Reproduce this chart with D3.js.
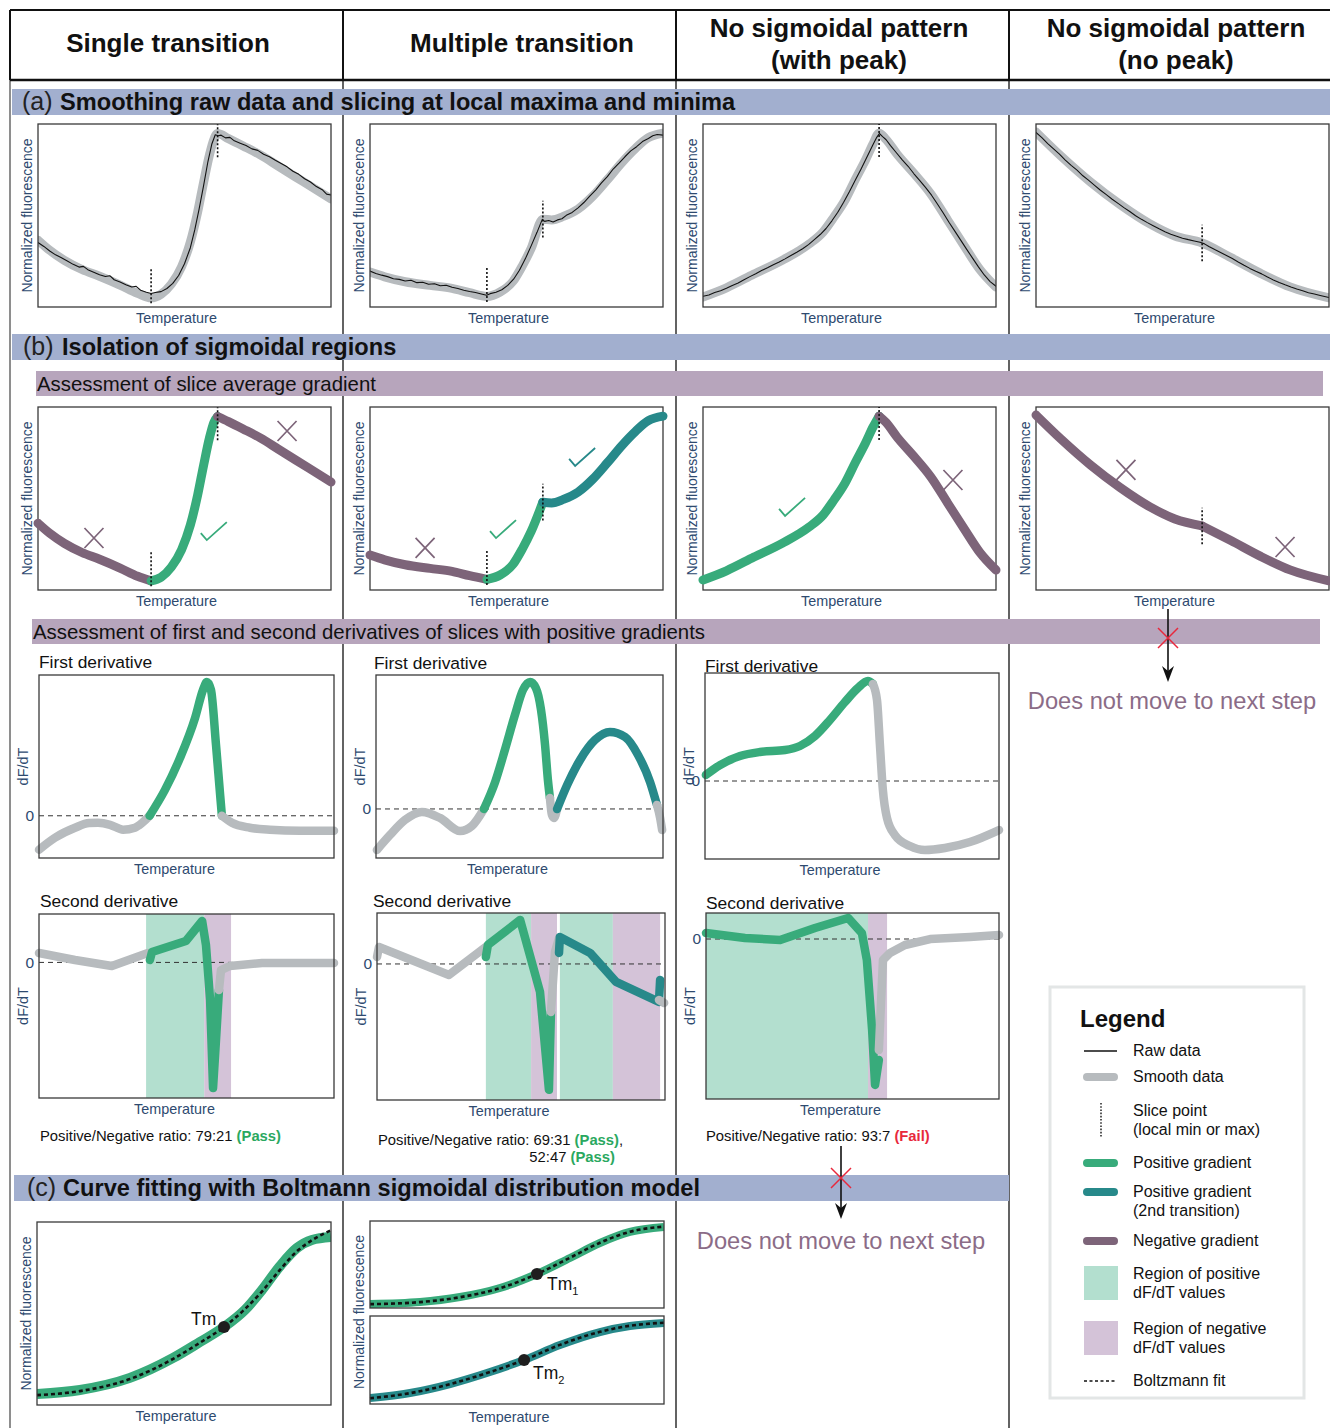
<!DOCTYPE html>
<html>
<head>
<meta charset="utf-8">
<script src="https://cdn.jsdelivr.net/npm/d3@7"></script>
<style>
  body { margin: 0; background: #fff; }
  svg { display: block; }
  text { font-family: "Liberation Sans", Arial, sans-serif; }
</style>
</head>
<body>
<svg id="fig" width="1330" height="1428"></svg>
<script>
// ---------------- text ----------------
const columnTitles = [["Single transition"], ["Multiple transition"],
  ["No sigmoidal pattern", "(with peak)"], ["No sigmoidal pattern", "(no peak)"]];
const sectionTitles = [["(a)", "Smoothing raw data and slicing at local maxima and minima"],
  ["(b)", "Isolation of sigmoidal regions"],
  ["(c)", "Curve fitting with Boltmann sigmoidal distribution model"]];
const stepTitles = ["Assessment of slice average gradient",
  "Assessment of first and second derivatives of slices with positive gradients"];
const stopNote = "Does not move to next step";

// ---------------- (a)/(b) melt curves: [temperature, fluorescence] ----------------
const smoothSingle = [[0,36.5],[4,31],[9,25.5],[15,20.5],[21,16.8],[28,12],[34,7.5],[38.6,5],[42,7],[45.5,12.5],[49,22],[52,35.5],[54.5,52],[56.5,68],[58.5,83],[60,91.5],[61.3,94.8],[65,92],[70,88],[76,83],[82,77],[88,71],[94,65],[100,59]];
const rawSingle = [[0,35.2],[2,33.1],[4,30.6],[6,28.5],[8,26.9],[10,25.1],[12,23.3],[14,21.8],[15.5,22.2],[17,20.4],[19,19],[21,17.6],[23,16.7],[24.5,17.1],[26,14.9],[28,13.6],[30,12.2],[32,10.9],[33.5,11.3],[35,9.2],[37,8.1],[38.6,7.4],[40,7.9],[42,8.4],[44,10.1],[46,12.9],[48,17.2],[50,23.6],[52,32.4],[53.5,42.1],[55,53.6],[56.5,66.2],[58,79.5],[59.3,88.9],[60.5,94.1],[61.5,93.6],[62.5,93.9],[64,92.4],[65.5,92.7],[67,90.8],[69,89.5],[71,88.2],[73,86.4],[75,85.6],[77,83.5],[79,82.1],[81,80.2],[83,78.4],[85,76.6],[87,74.2],[89,72.5],[91,70.1],[93,68.3],[95,65.8],[97,64.1],[98.5,61.7],[100,61.2]];

const smoothMultiple = [[0,19.1],[5,16.5],[12,13.8],[20.5,11.8],[28,10.2],[34,7.8],[39.9,5.8],[44.4,8.2],[48.8,14],[52,22.5],[55,32],[59,48],[62,47.6],[66,49.5],[71,53.5],[76,60.5],[81,69.5],[86,79],[90.5,86.5],[95,92.5],[100,95]];
const rawMultiple = [[0,19.6],[2,18.3],[4,17.4],[6,16.6],[8,15.4],[10,15.1],[12,14.2],[14,14.6],[16,13.3],[18,13.5],[20,12.4],[22,12.7],[24,11.6],[26,11.9],[28,10.8],[30,10.1],[32,9.2],[34,8.5],[36,7.9],[38,7.1],[39.8,6.4],[41,7.3],[43,8.1],[45,9.4],[47,11.8],[49,15.2],[51,20.1],[53,26.3],[55,33.4],[57,40.8],[58.8,47.9],[59.6,46.8],[61,47.3],[62.5,46.5],[64,47.6],[65.5,48.2],[67,50.1],[69,51.7],[71,54.2],[73,57.1],[75,60.6],[77,63.9],[79,67.8],[81,71.2],[83,75.4],[85,78.6],[87,82.1],[89,85.3],[91,87.6],[93,90.4],[95,92.1],[96.5,93.6],[98,94.3],[100,93.9]];

const smoothPeak = [[0,5.5],[8,10.5],[17.4,18],[27,25.5],[36.2,34.4],[41,41],[44.7,49.2],[48.5,58.5],[51.9,69.4],[55.5,80.5],[58,89],[60.1,95],[62.5,91.5],[66.2,83.6],[72,73],[77.8,61.7],[83.5,47.5],[89.4,32.8],[94.5,20.5],[100,10.9]];
const rawPeak = [[0,5.9],[2,6.6],[4,7.9],[6,8.9],[8,10.2],[10,11.8],[12,13.1],[14,14.9],[16,16.6],[18,18.2],[20,19.9],[22,21.4],[24,23.1],[26,24.6],[28,26.3],[30,28.1],[32,29.9],[34,31.8],[36,34.1],[38,36.8],[40,39.6],[42,42.9],[44,47.1],[46,51.8],[48,57.2],[50,63.1],[52,69.4],[54,75.6],[56,82.1],[58,88.6],[59.3,92.7],[60.2,94.8],[61.3,93.1],[62.5,91.4],[64,88.2],[66,84.3],[68,80.4],[70,76.9],[72,72.8],[74,69.1],[76,65.2],[78,61.1],[80,56.3],[82,51.4],[84,46.2],[86,41.3],[88,36.4],[90,31.5],[92,26.7],[94,21.9],[96,17.5],[98,13.9],[100,11.3]];

const smoothNoPeak = [[0,95.6],[8.5,82.5],[18.6,68.3],[28.7,56],[38.9,45.4],[47.4,38.8],[56.7,35],[66.5,27],[76.5,18.5],[86.7,11],[100,5]];
const rawNoPeak = [[0,95.4],[2,92.6],[4,89.3],[6,86.4],[8,83.5],[10,80.3],[12,77.4],[14,74.8],[16,71.7],[18,69.2],[20,66.5],[22,63.8],[24,61.4],[26,58.9],[28,56.6],[30,54.3],[32,52.2],[34,49.9],[36,47.9],[38,46.1],[40,44.4],[42,42.7],[44,41.1],[46,39.8],[48,38.7],[50,37.6],[52,36.8],[54,36.1],[56,35.4],[57.5,34.5],[59,33.1],[61,31.4],[63,29.8],[65,28.2],[67,26.5],[69,24.6],[71,22.8],[73,21.1],[75,19.5],[77,18.1],[79,16.4],[81,14.8],[83,13.4],[85,12.1],[87,10.9],[89,9.8],[91,8.9],[93,7.8],[95,7.1],[97,6.3],[100,5.2]];

// slice points (local min / max) and the gradient sign of each resulting slice
const slicesSingle = [{x:38.6, kind:"min"}, {x:61.3, kind:"max"}];
const slicesMultiple = [{x:39.9, kind:"min"}, {x:59, kind:"mid"}];
const slicesPeak = [{x:60.1, kind:"max"}];
const slicesNoPeak = [{x:56.7, kind:"mid"}];
const gradSingle = ["neg", "pos", "neg"];
const gradMultiple = ["neg", "pos", "pos2"];
const gradPeak = ["pos", "neg"];
const gradNoPeak = ["neg", "neg"];

// accept / reject marks beside each slice
const marksSingle = [{type:"cross", x:19.1, y:28.4}, {type:"check", kind:"pos", x:60, y:32.2}, {type:"cross", x:85, y:86.9}];
const marksMultiple = [{type:"cross", x:18.8, y:23}, {type:"check", kind:"pos", x:45.4, y:33.3}, {type:"check", kind:"pos2", x:72.4, y:72.7}];
const marksPeak = [{type:"check", kind:"pos", x:30.4, y:45.4}, {type:"cross", x:85.3, y:60.1}];
const marksNoPeak = [{type:"cross", x:30.7, y:65.6}, {type:"cross", x:85, y:23.5}];

// ---------------- first derivative (dF/dT) ----------------
const d1SingleRange = [-30, 100];
const d1Single = [
  {kind:"smooth", pts:[[0,-24.1],[5.4,-15.6],[12.2,-8.5],[17,-5.2],[20,-5],[24.1,-6.4],[28.5,-9.9],[32.5,-8.5],[35,-5],[37.5,0]]},
  {kind:"pos", pts:[[37.5,0],[42.7,18.4],[47.8,41.1],[52.9,69.5],[55.6,89.4],[56.9,95],[58.3,89.4],[60,50.4],[61.4,14.9],[62,0]]},
  {kind:"smooth", pts:[[62,0],[65.4,-5],[71.5,-8.5],[78.3,-9.9],[88.5,-10.6],[100,-10.6]]}
];
const d1MultipleRange = [-36.6, 100];
const d1Multiple = [
  {kind:"smooth", pts:[[0.3,-30.6],[4.9,-19.4],[10.1,-8.2],[16,-2.2],[22.3,-6.7],[29.3,-16.5],[33.4,-12.7],[37.6,0]]},
  {kind:"pos", pts:[[37.6,0],[41.5,20.1],[44.9,44],[48.4,70.1],[51.2,88.8],[53.7,94.8],[55.7,90.3],[57.5,73.9],[58.9,47.8],[59.9,21.6],[60.6,8.2]]},
  {kind:"smooth", pts:[[60.6,8.2],[61.3,-4.5],[62,-6.7],[63.1,0]]},
  {kind:"pos2", pts:[[63.1,0],[66.6,17.9],[71.1,36.6],[76.3,51.5],[81.5,57.5],[86.8,53.7],[91.3,40.3],[95.5,20.1],[97.9,3]]},
  {kind:"smooth", pts:[[97.9,3],[99,-6.7],[99.7,-15.7]]}
];
const d1PeakRange = [-72.2, 100];
const d1Peak = [
  {kind:"pos", pts:[[0.3,5.6],[5.1,14.8],[11.9,23.1],[18.7,26.9],[27.2,28.7],[32.3,32.4],[37.4,41.7],[42.5,56.5],[47.6,73.1],[52,86.1],[55.4,92.6],[57.1,89.8]]},
  {kind:"smooth", pts:[[57.1,89.8],[58.5,75],[59.5,33.3],[60.5,-8.3],[61.9,-34.3],[64.6,-50],[69.7,-60.2],[74.8,-63.9],[81.6,-62],[90.1,-56.5],[100,-45.4]]}
];

// ---------------- second derivative ----------------
const d2SingleRange = [-280, 100];
const d2Single = [
  {kind:"smooth", pts:[[0,19.4],[12.2,5],[24.7,-7.4],[36.9,19.4]]},
  {kind:"pos", pts:[[37.6,5],[38.3,21.5],[49.8,44.2],[55.3,85.5],[56.6,36],[58,-77.7],[59,-259.5],[60,-160.3],[61,-57]]},
  {kind:"smooth", pts:[[61,-57],[61.7,-15.7],[64.7,-7.4],[75.6,-1.2],[100,-1.2]]}
];
const regionsSingle = [{kind:"pos", from:36.3, to:56}, {kind:"neg", from:56, to:65.1}];

const d2MultipleRange = [-267, 100];
const d2Multiple = [
  {kind:"smooth", pts:[[0,13.7],[0.7,33.4],[25,-21.6],[37.8,33.4]]},
  {kind:"pos", pts:[[37.8,13.7],[38.5,37.3],[49.7,86.4],[56.6,-55],[59.7,-247],[60.4,-94.2]]},
  {kind:"smooth", pts:[[60.4,-94.2],[61.8,23.6],[63.2,51]]},
  {kind:"pos2", pts:[[63.2,21.6],[63.5,53],[74,21.6],[83,-35.3],[97.9,-74.6],[98.3,-31.4]]},
  {kind:"smooth", pts:[[97.9,-70.7],[99.7,-76.5]]}
];
const regionsMultiple = [{kind:"pos", from:37.8, to:53.5}, {kind:"neg", from:53.5, to:62.5},
  {kind:"pos", from:63.5, to:81.9}, {kind:"neg", from:81.9, to:98.3}];

const d2PeakRange = [-615, 100];
const d2Peak = [
  {kind:"pos", pts:[[0,23],[13.3,3.8],[25.3,-3.8],[37.2,42.3],[48.5,80.8],[53.2,23],[54.9,-80.8],[56.7,-350],[57.7,-561],[59,-465]]},
  {kind:"smooth", pts:[[59,-427],[60.4,-80.8],[62.8,-53.8],[67.9,-23],[76.5,0],[90.1,7.7],[100,15.4]]}
];
const regionsPeak = [{kind:"pos", from:0, to:55.3}, {kind:"neg", from:55.3, to:61.8}];

const ratioSingle = [["79:21", "Pass"]];
const ratioMultiple = [["69:31", "Pass"], ["52:47", "Pass"]];
const ratioPeak = [["93:7", "Fail"]];

// ---------------- (c) Boltzmann fits ----------------
const sigSingle = [[0,6],[14.6,8.2],[31.6,14.8],[46.3,25.7],[55.4,34.4],[63.6,42.6],[70.7,51.9],[76.5,62.8],[82.7,76],[88.4,85.8],[93.5,90.2],[100,91.8]];
const fitSingle = [[0,5.4],[14.6,7.6],[31.6,14.2],[46.3,25.2],[55.4,34],[63.6,42.6],[70.7,52.4],[76.5,62],[82.7,74],[88.4,84],[94,90.5],[100,95.5]];
const tmSingle = [63.6, 42.6];
const sigFirst = [[0,4.6],[17,6.9],[30.6,12.6],[44.2,23],[56.8,39.1],[68,57.5],[78.2,74.7],[88.4,87.4],[100,93.1]];
const fitFirst = [[0,4.4],[17,6.8],[30.6,12.4],[44.2,22.8],[56.8,39.1],[68,57.7],[78.2,75],[88.4,87.6],[100,93.6]];
const tmFirst = [56.8, 39.1];
const sigSecond = [[0,6.8],[13.6,12.5],[27.2,22.7],[40.8,36.4],[52.4,50],[64.6,67],[78.2,81.8],[88.4,88.6],[100,92]];
const fitSecond = [[0,6.5],[13.6,12.3],[27.2,22.6],[40.8,36.3],[52.4,50],[64.6,67.2],[78.2,82],[88.4,88.9],[100,92.4]];
const tmSecond = [52.4, 50];

// ---------------- legend ----------------
const legendItems = [
  {sym:"raw", label:["Raw data"]},
  {sym:"smooth", label:["Smooth data"]},
  {sym:"slice", label:["Slice point", "(local min or max)"]},
  {sym:"pos", label:["Positive gradient"]},
  {sym:"pos2", label:["Positive gradient", "(2nd transition)"]},
  {sym:"neg", label:["Negative gradient"]},
  {sym:"regionPos", label:["Region of positive", "dF/dT values"]},
  {sym:"regionNeg", label:["Region of negative", "dF/dT values"]},
  {sym:"fit", label:["Boltzmann fit"]}
];

// ---------------- styling ----------------
const C = {green:"#38ab7b", teal:"#27898a", purple:"#7d6479", gray:"#b7bbbe",
  posRegion:"#b3dfcf", negRegion:"#d4c3d8", navy:"#2e4a6f", blue:"#a2afcf",
  band:"#b7a5bc", red:"#e8283c", note:"#8b6c87", pass:"#2aa860"};
const strokeFor = {smooth:C.gray, pos:C.green, pos2:C.teal, neg:C.purple};
const FONT = '"Liberation Sans", Arial, sans-serif';

const svg = d3.select("#fig");
const defs = svg.append("defs");
svg.append("rect").attr("width", 1330).attr("height", 1428).attr("fill", "#fff");

let clipCount = 0;
function clipFor(box) {
  const id = "clip" + (clipCount++);
  defs.append("clipPath").attr("id", id).append("rect")
    .attr("x", box.x).attr("y", box.y).attr("width", box.w).attr("height", box.h);
  return `url(#${id})`;
}
function panel(box, yDom) {
  return {
    box,
    x: d3.scaleLinear().domain([0, 100]).range([box.x, box.x + box.w]),
    y: d3.scaleLinear().domain(yDom || [0, 100]).range([box.y + box.h, box.y])
  };
}
function frame(p) {
  svg.append("rect").attr("x", p.box.x).attr("y", p.box.y).attr("width", p.box.w).attr("height", p.box.h)
    .attr("fill", "none").attr("stroke", "#3a3a3a").attr("stroke-width", 1.3);
}
function pathOf(p, pts, curve) {
  return d3.line().x(d => p.x(d[0])).y(d => p.y(d[1])).curve(curve)(pts);
}
function stroke(p, pts, color, width, curve, opts = {}) {
  const el = svg.append("path").attr("d", pathOf(p, pts, curve)).attr("fill", "none")
    .attr("stroke", color).attr("stroke-width", width)
    .attr("stroke-linecap", opts.cap || "round").attr("stroke-linejoin", "round");
  if (opts.dash) el.attr("stroke-dasharray", opts.dash);
  if (opts.clip) el.attr("clip-path", opts.clip);
  return el;
}
function navyText(x, y, str, size, anchor, rotate) {
  const t = svg.append("text").attr("fill", C.navy).attr("font-size", size)
    .attr("text-anchor", anchor || "middle").text(str);
  if (rotate) t.attr("transform", `translate(${x},${y}) rotate(-90)`).attr("dominant-baseline", "central");
  else t.attr("x", x).attr("y", y);
  return t;
}
function axisTitles(p, yText, dxTemp, dxY) {
  const b = p.box;
  navyText(b.x + b.w / 2 + dxTemp, b.y + b.h + 16, "Temperature", 14.4);
  navyText(b.x + dxY, b.y + b.h / 2, yText, yText === "dF/dT" ? 14.5 : 14, "middle", true);
}

// ---------------- table grid ----------------
const colLeft = [10, 343, 676, 1009];
colLeft.slice(1).forEach(x => svg.append("line").attr("x1", x).attr("x2", x).attr("y1", 80).attr("y2", 1428)
  .attr("stroke", "#3c3c3c").attr("stroke-width", 1.6));
svg.append("line").attr("x1", 10).attr("x2", 10).attr("y1", 80).attr("y2", 1428)
  .attr("stroke", "#8e8e8e").attr("stroke-width", 2);
svg.append("line").attr("x1", 10).attr("x2", 1330).attr("y1", 10).attr("y2", 10).attr("stroke", "#111").attr("stroke-width", 2);
svg.append("line").attr("x1", 10).attr("x2", 1330).attr("y1", 80).attr("y2", 80).attr("stroke", "#111").attr("stroke-width", 2.5);
colLeft.forEach(x => svg.append("line").attr("x1", x).attr("x2", x).attr("y1", 10).attr("y2", 80)
  .attr("stroke", "#111").attr("stroke-width", 2));

const headerCenters = [168, 522, 839, 1176];
columnTitles.forEach((lines, i) => {
  const t = svg.append("text").attr("font-size", 26).attr("font-weight", "bold").attr("fill", "#111")
    .attr("text-anchor", "middle");
  const ys = lines.length === 1 ? [52] : [37, 69];
  lines.forEach((s, j) => t.append("tspan").attr("x", headerCenters[i]).attr("y", ys[j]).text(s));
});

// section bands
function sectionBand(y, x0, x1, title, tx, bx) {
  svg.append("rect").attr("x", x0).attr("y", y).attr("width", x1 - x0).attr("height", 26).attr("fill", C.blue);
  svg.append("text").attr("x", tx).attr("y", y + 21).attr("font-size", 25)
    .attr("font-family", '"Liberation Serif", "Times New Roman", serif').attr("fill", "#222").text(title[0]);
  svg.append("text").attr("x", bx).attr("y", y + 21).attr("font-size", 23.6).attr("font-weight", "bold")
    .attr("fill", "#111").text(title[1]);
}
function stepBand(y, x0, x1, title) {
  svg.append("rect").attr("x", x0).attr("y", y).attr("width", x1 - x0).attr("height", 25).attr("fill", C.band);
  svg.append("text").attr("x", x0 + 1).attr("y", y + 20).attr("font-size", 20.4).attr("fill", "#111").text(title);
}
sectionBand(89, 12, 1330, sectionTitles[0], 22, 60);
sectionBand(334, 12, 1330, sectionTitles[1], 23, 62);
stepBand(371, 36, 1323, stepTitles[0]);
stepBand(619, 32, 1320, stepTitles[1]);
sectionBand(1175, 14, 1009, sectionTitles[2], 27, 63);

// ---------------- (a) smoothing and slicing ----------------
const sliceReach = {min:[-3, 16], max:[-13, 5], mid:[-10, 10]};
function drawSlices(p, smooth, slices) {
  slices.forEach(s => {
    const yv = smooth.find(d => d[0] === s.x)[1];
    const r = sliceReach[s.kind];
    svg.append("line").attr("x1", p.x(s.x)).attr("x2", p.x(s.x))
      .attr("y1", p.y(yv + r[0])).attr("y2", p.y(yv + r[1]))
      .attr("stroke", "#111").attr("stroke-width", 1.6).attr("stroke-dasharray", "2,2");
  });
}
const curvesA = [
  {smooth:smoothSingle, raw:rawSingle, slices:slicesSingle, grad:gradSingle, marks:marksSingle},
  {smooth:smoothMultiple, raw:rawMultiple, slices:slicesMultiple, grad:gradMultiple, marks:marksMultiple},
  {smooth:smoothPeak, raw:rawPeak, slices:slicesPeak, grad:gradPeak, marks:marksPeak},
  {smooth:smoothNoPeak, raw:rawNoPeak, slices:slicesNoPeak, grad:gradNoPeak, marks:marksNoPeak}
];
const plotLeft = [38, 370, 703, 1036];
curvesA.forEach((c, i) => {
  const p = panel({x:plotLeft[i], y:124, w:293, h:183});
  const clip = clipFor(p.box);
  stroke(p, c.smooth, C.gray, 9, d3.curveMonotoneX, {clip});
  stroke(p, c.raw, "#111", 1.1, d3.curveLinear, {clip});
  frame(p);
  drawSlices(p, c.smooth, c.slices);
  axisTitles(p, "Normalized fluorescence", -8, -11);
});

// ---------------- (b) slice average gradient ----------------
function splitAt(points, cuts) {
  const bounds = [-Infinity, ...cuts, Infinity];
  return d3.range(bounds.length - 1).map(i => points.filter(d => d[0] >= bounds[i] && d[0] <= bounds[i + 1]));
}
function drawMarks(p, marks) {
  marks.forEach(m => {
    const cx = p.x(m.x), cy = p.y(m.y);
    if (m.type === "cross") {
      svg.append("path").attr("d", `M${cx - 9.5},${cy - 10}L${cx + 9.5},${cy + 10}M${cx + 9.5},${cy - 10}L${cx - 9.5},${cy + 10}`)
        .attr("stroke", C.purple).attr("stroke-width", 1.7).attr("fill", "none");
    } else {
      svg.append("path").attr("d", `M${cx - 13},${cy + 2}L${cx - 7},${cy + 9}L${cx + 13},${cy - 9}`)
        .attr("stroke", strokeFor[m.kind]).attr("stroke-width", 1.8).attr("fill", "none");
    }
  });
}
curvesA.forEach((c, i) => {
  const p = panel({x:plotLeft[i], y:407, w:293, h:183});
  frame(p);
  const parts = splitAt(c.smooth, c.slices.map(s => s.x));
  parts.forEach((pts, k) => stroke(p, pts, strokeFor[c.grad[k]], 9, d3.curveMonotoneX));
  drawSlices(p, c.smooth, c.slices);
  drawMarks(p, c.marks);
  axisTitles(p, "Normalized fluorescence", -8, -11);
});

// ---------------- derivative panels ----------------
function zeroAxis(p) {
  svg.append("line").attr("x1", p.box.x).attr("x2", p.box.x + p.box.w).attr("y1", p.y(0)).attr("y2", p.y(0))
    .attr("stroke", "#333").attr("stroke-width", 1).attr("stroke-dasharray", "5,4");
  const ax = svg.append("g").attr("transform", `translate(${p.box.x},0)`)
    .call(d3.axisLeft(p.y).tickValues([0]).tickSize(0).tickPadding(5).tickFormat(d3.format("d")));
  ax.attr("font-size", 15.5).attr("font-family", FONT);
  ax.select(".domain").remove();
  ax.selectAll("text").attr("fill", C.navy);
}
function derivPanel(box, range, segs, title, titlePos, curve, regions) {
  const p = panel(box, range);
  if (regions) {
    regions.forEach(r => svg.append("rect").attr("x", p.x(r.from)).attr("width", p.x(r.to) - p.x(r.from))
      .attr("y", box.y).attr("height", box.h)
      .attr("fill", r.kind === "pos" ? C.posRegion : C.negRegion));
  }
  zeroAxis(p);
  segs.forEach(s => stroke(p, s.pts, strokeFor[s.kind], 8.5, curve));
  frame(p);
  svg.append("text").attr("x", titlePos[0]).attr("y", titlePos[1]).attr("font-size", 17.4).attr("fill", "#111").text(title);
  axisTitles(p, "dF/dT", -12, -16);
  return p;
}
derivPanel({x:39, y:675, w:295, h:183}, d1SingleRange, d1Single, "First derivative", [39, 668], d3.curveMonotoneX);
derivPanel({x:376, y:675, w:287, h:183}, d1MultipleRange, d1Multiple, "First derivative", [374, 669], d3.curveMonotoneX);
derivPanel({x:705, y:673, w:294, h:186}, d1PeakRange, d1Peak, "First derivative", [705, 672], d3.curveMonotoneX);
derivPanel({x:39, y:914, w:295, h:184}, d2SingleRange, d2Single, "Second derivative", [40, 907], d3.curveLinear, regionsSingle);
derivPanel({x:377, y:913, w:288, h:187}, d2MultipleRange, d2Multiple, "Second derivative", [373, 907], d3.curveLinear, regionsMultiple);
derivPanel({x:706, y:913, w:293, h:186}, d2PeakRange, d2Peak, "Second derivative", [706, 909], d3.curveLinear, regionsPeak);

// ratio verdicts
function ratioText(x, y, ratios) {
  const t = svg.append("text").attr("x", x).attr("y", y).attr("font-size", 14.8).attr("fill", "#111");
  const prefix = t.append("tspan").text("Positive/Negative ratio: ");
  const indent = x + prefix.node().getComputedTextLength();
  ratios.forEach((r, i) => {
    const line = i === 0 ? t : svg.append("text").attr("x", indent).attr("y", y + 17 * i).attr("font-size", 14.8).attr("fill", "#111");
    line.append("tspan").text(r[0] + " ");
    line.append("tspan").attr("font-weight", "bold").attr("fill", r[1] === "Pass" ? C.pass : C.red).text(`(${r[1]})`);
    if (i < ratios.length - 1) line.append("tspan").text(",");
  });
}
ratioText(40, 1141, ratioSingle);
ratioText(378, 1145, ratioMultiple);
ratioText(706, 1141, ratioPeak);

// ---------------- stop arrows ----------------
function stopArrow(x, y1, y2, yCross) {
  svg.append("line").attr("x1", x).attr("x2", x).attr("y1", y1).attr("y2", y2 - 10)
    .attr("stroke", "#111").attr("stroke-width", 1.6);
  svg.append("path").attr("d", `M${x - 6},${y2 - 16}L${x},${y2 - 11}L${x + 6},${y2 - 16}L${x},${y2}Z`).attr("fill", "#111");
  svg.append("path").attr("d", `M${x - 10},${yCross - 10}L${x + 10},${yCross + 10}M${x + 10},${yCross - 10}L${x - 10},${yCross + 10}`)
    .attr("stroke", C.red).attr("stroke-width", 1.5).attr("fill", "none");
}
stopArrow(1168, 609, 682, 638);
svg.append("text").attr("x", 1172).attr("y", 709).attr("text-anchor", "middle").attr("font-size", 23.7)
  .attr("fill", C.note).text(stopNote);
stopArrow(841, 1146, 1219, 1178);
svg.append("text").attr("x", 841).attr("y", 1249).attr("text-anchor", "middle").attr("font-size", 23.7)
  .attr("fill", C.note).text(stopNote);

// ---------------- (c) curve fitting ----------------
function fitPanel(box, sig, fit, tm, color, width, tmLabel, sub, labelDx, labelDy) {
  const p = panel(box);
  const clip = clipFor(box);
  stroke(p, sig, color, width, d3.curveMonotoneX, {clip, cap:"butt"});
  stroke(p, fit, "#111", 2.6, d3.curveMonotoneX, {dash:"4,3", cap:"butt"});
  frame(p);
  svg.append("circle").attr("cx", p.x(tm[0])).attr("cy", p.y(tm[1])).attr("r", 6).attr("fill", "#1e1e1e");
  const t = svg.append("text").attr("x", p.x(tm[0]) + labelDx).attr("y", p.y(tm[1]) + labelDy)
    .attr("font-size", 17.5).attr("fill", "#111").text(tmLabel);
  if (sub) t.append("tspan").attr("font-size", 11).attr("dy", 5).text(sub);
  return p;
}
const pc1 = fitPanel({x:37, y:1222, w:294, h:183}, sigSingle, fitSingle, tmSingle, C.green, 10, "Tm", null, -33, -2);
axisTitles(pc1, "Normalized fluorescence", -8, -11);
fitPanel({x:370, y:1221, w:294, h:87}, sigFirst, fitFirst, tmFirst, C.green, 8, "Tm", "1", 10, 16);
fitPanel({x:370, y:1316, w:294, h:88}, sigSecond, fitSecond, tmSecond, C.teal, 8, "Tm", "2", 9, 19);
navyText(370 + 147 - 8, 1404 + 18, "Temperature", 14.4);
navyText(359, 1312, "Normalized fluorescence", 14, "middle", true);

// ---------------- legend ----------------
svg.append("rect").attr("x", 1050).attr("y", 987).attr("width", 254).attr("height", 411)
  .attr("fill", "#fff").attr("stroke", "#e3e6e6").attr("stroke-width", 3);
svg.append("text").attr("x", 1080).attr("y", 1027).attr("font-size", 24).attr("font-weight", "bold")
  .attr("fill", "#111").text("Legend");
const legendRowY = [1051, 1077, 1111, 1163, 1192, 1241, 1274, 1329, 1381];
legendItems.forEach((item, i) => {
  const y = legendRowY[i];
  const x0 = 1084, x1 = 1117;
  if (item.sym === "raw") {
    svg.append("line").attr("x1", x0).attr("x2", x1).attr("y1", y).attr("y2", y).attr("stroke", "#111").attr("stroke-width", 1.6);
  } else if (["smooth", "pos", "pos2", "neg"].includes(item.sym)) {
    svg.append("line").attr("x1", x0 + 3).attr("x2", x1 - 3).attr("y1", y).attr("y2", y)
      .attr("stroke", strokeFor[item.sym]).attr("stroke-width", 8).attr("stroke-linecap", "round");
  } else if (item.sym === "slice") {
    svg.append("line").attr("x1", 1101).attr("x2", 1101).attr("y1", y - 8).attr("y2", y + 27)
      .attr("stroke", "#111").attr("stroke-width", 1.4).attr("stroke-dasharray", "1.6,1.6");
  } else if (item.sym === "regionPos" || item.sym === "regionNeg") {
    svg.append("rect").attr("x", x0).attr("y", y - 8).attr("width", 34).attr("height", 34)
      .attr("fill", item.sym === "regionPos" ? C.posRegion : C.negRegion);
  } else if (item.sym === "fit") {
    svg.append("line").attr("x1", x0).attr("x2", x1).attr("y1", y).attr("y2", y)
      .attr("stroke", "#111").attr("stroke-width", 1.4).attr("stroke-dasharray", "3,2.5");
  }
  const t = svg.append("text").attr("font-size", 16).attr("fill", "#111");
  item.label.forEach((s, j) => t.append("tspan").attr("x", 1133).attr("y", y + 5 + j * 19).text(s));
});
</script>
</body>
</html>
